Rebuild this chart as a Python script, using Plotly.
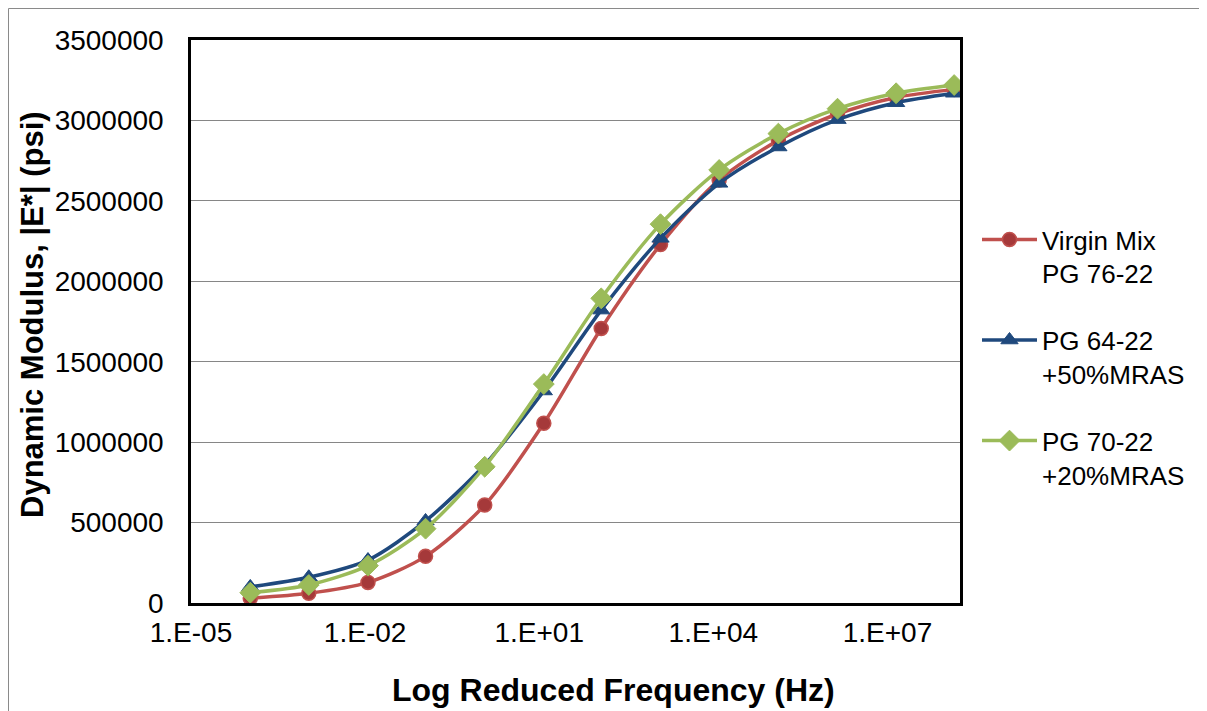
import plotly.graph_objects as go

# Reduced frequency (Hz)
freq = [1.05e-4, 1.07e-3, 1.12e-2, 0.110, 1.15, 12.0, 117, 1230, 1.26e4, 1.32e5, 1.38e6, 1.41e7, 1.41e8]

virgin = [30000, 60000, 128000, 290000, 609000, 1117000, 1707000, 2228000, 2630000, 2876000, 3040000, 3143000, 3193000]
mras50 = [100000, 160000, 267000, 510000, 860000, 1318000, 1821000, 2267000, 2609000, 2835000, 3005000, 3110000, 3169000]
mras20 = [64000, 112000, 232000, 462000, 847000, 1361000, 1894000, 2355000, 2692000, 2918000, 3073000, 3169000, 3220000]

names = ["Virgin Mix<br>PG 76-22", "PG 64-22<br>+50%MRAS", "PG 70-22<br>+20%MRAS"]

xtick_vals = [1e-5, 1e-2, 1e1, 1e4, 1e7]
xtick_text = ["1.E-05", "1.E-02", "1.E+01", "1.E+04", "1.E+07"]

FONT = "Liberation Sans, Arial, sans-serif"

fig = go.Figure()
fig.add_trace(go.Scatter(
    x=freq, y=virgin, name=names[0], mode="lines+markers", legendgroup="a",
    line=dict(color="#C0504D", width=3.5, shape="spline", smoothing=0.8),
    marker=dict(symbol="circle", size=14, color="#A5393A", line=dict(color="#C0504D", width=1.5)),
))
fig.add_trace(go.Scatter(
    x=freq, y=mras50, name=names[1], mode="lines+markers", legendgroup="b",
    line=dict(color="#1F497D", width=3.5, shape="spline", smoothing=0.8),
    marker=dict(symbol="triangle-up", size=15, color="#1F497D", line=dict(color="#1F497D", width=1)),
))
fig.add_trace(go.Scatter(
    x=freq, y=mras20, name=names[2], mode="lines+markers", legendgroup="c",
    line=dict(color="#9BBB59", width=3.5, shape="spline", smoothing=0.8),
    marker=dict(symbol="diamond", size=16, color="#9BBB59", line=dict(color="#9BBB59", width=1)),
))

# page body adds an 8px offset, so the figure is 8px smaller and positions are shifted
W, H = 1199, 703
L, T = 183, 32
pw, ph = 769, 563
R, B = W - L - pw, H - T - ph


def px(xp):
    return (xp - L) / pw


def py(yp):
    return (T + ph - yp) / ph


fig.update_layout(
    width=W, height=H,
    margin=dict(l=L, r=R, t=T, b=B, autoexpand=False),
    paper_bgcolor="white", plot_bgcolor="white",
    font=dict(family=FONT, size=26, color="black"),
    showlegend=True,
    legend=dict(
        x=px(969), y=py(208), xanchor="left", yanchor="top",
        font=dict(size=26, family=FONT), traceorder="grouped", tracegroupgap=30,
        itemwidth=55, valign="top", bgcolor="rgba(0,0,0,0)",
    ),
    xaxis=dict(
        type="log", range=[-5, 8.25], tickvals=xtick_vals, ticktext=xtick_text,
        showgrid=False, zeroline=False, showline=True, linecolor="black", linewidth=2.5, mirror=True,
        ticks="", tickfont=dict(size=28, family=FONT), ticklabelstandoff=3,
    ),
    yaxis=dict(
        range=[0, 3500000], dtick=500000, tickformat="d",
        showgrid=True, gridcolor="#868686", gridwidth=1, zeroline=False,
        showline=True, linecolor="black", linewidth=2.5, mirror=True,
        ticks="", tickfont=dict(size=28, family=FONT), ticklabelstandoff=19,
    ),
    annotations=[
        dict(text="<b>Log Reduced Frequency (Hz)</b>", xref="paper", yref="paper",
             x=px(605), y=py(682), xanchor="center", yanchor="middle",
             showarrow=False, font=dict(size=32, family=FONT)),
        dict(text="<b>Dynamic Modulus, |E*| (psi)</b>", xref="paper", yref="paper",
             x=px(24), y=py(307), xanchor="center", yanchor="middle",
             textangle=-90, showarrow=False, font=dict(size=31, family=FONT)),
    ],
    shapes=[
        dict(type="rect", xref="paper", yref="paper",
             x0=px(0.5), x1=px(1196), y0=py(720), y1=py(0.5),
             line=dict(color="#8A8A8A", width=1), fillcolor="rgba(0,0,0,0)", layer="below"),
    ],
)

fig.write_html("out.html")
